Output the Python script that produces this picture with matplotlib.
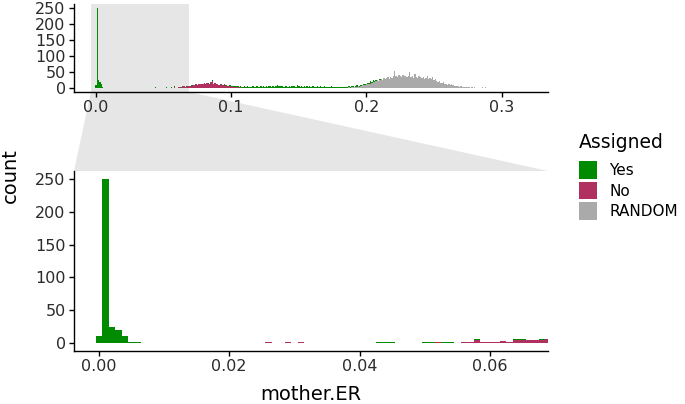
import numpy as np
import matplotlib
matplotlib.use("Agg")
from matplotlib import pyplot as plt
from matplotlib.patches import Patch, Polygon

plt.rcParams['font.family'] = ['DejaVu Sans']

# histogram bins: bin k is centred on k * bin_width
bin_width = 0.001

yes_counts = [
    10, 250, 24, 20, 11, 2, 1, 0, 0, 0, 0, 0, 0, 0, 0, 0, 0, 0, 0, 0,
    0, 0, 0, 0, 0, 0, 0, 0, 0, 0, 0, 0, 0, 0, 0, 0, 0, 0, 0, 0,
    0, 0, 0, 1, 2, 1, 0, 0, 0, 0, 1, 1, 1, 1, 1, 0, 1, 0, 2, 0,
    0, 0, 0, 1, 1, 1, 0, 1, 1, 0, 0, 1, 0, 0, 1, 0, 0, 1, 0, 0,
    1, 0, 0, 1, 0, 0, 1, 0, 0, 1, 0, 1, 0, 1, 0, 1, 2, 1, 1, 2,
    1, 2, 1, 3, 2, 3, 2, 4, 3, 2, 4, 3, 5, 2, 4, 3, 6, 4, 3, 5,
    4, 2, 4, 3, 5, 4, 7, 3, 4, 5, 3, 6, 4, 5, 8, 4, 6, 5, 7, 4,
    5, 6, 3, 5, 4, 7, 5, 6, 4, 8, 5, 4, 6, 3, 5, 4, 6, 3, 5, 4,
    6, 5, 3, 4, 5, 3, 6, 4, 3, 5, 4, 3, 4, 2, 5, 3, 4, 2, 3, 4,
    2, 3, 4, 2, 3, 2, 4, 3, 2, 3, 4, 2, 3, 5, 2, 3, 4, 2, 3, 4,
    2, 6, 3, 7, 4, 6, 2, 3, 1, 2, 1, 1, 0, 1, 0, 1, 0, 0, 0, 0,
    0, 0, 0, 0, 0, 0, 0, 0, 0, 0, 0, 0, 0, 0, 0, 0, 0, 0, 0, 0,
    0, 0, 0, 0, 0, 0, 0, 0, 0, 0, 0, 0, 0, 0, 0, 0, 0, 0, 0, 0,
    0, 0, 0, 0, 0, 0, 0, 0, 0, 0, 0, 0, 0, 0, 0, 0, 0, 0, 0, 0,
    0, 0, 0, 0, 0, 0, 0, 0, 0, 0, 0, 0, 0, 0, 0, 0, 0, 0, 0, 0,
    0, 0, 0, 0, 0, 0, 0, 0, 0, 0, 0, 0, 0, 0, 0, 0, 0, 0, 0, 0,
]

no_counts = [
    0, 0, 0, 0, 0, 0, 0, 0, 0, 0, 0, 0, 0, 0, 0, 0, 0, 0, 0, 0,
    0, 0, 0, 0, 0, 0, 1, 0, 0, 1, 0, 1, 0, 0, 0, 0, 0, 0, 0, 0,
    0, 0, 0, 0, 0, 0, 0, 0, 0, 0, 0, 0, 1, 0, 0, 0, 1, 1, 4, 1,
    1, 2, 3, 1, 5, 5, 4, 4, 5, 6, 5, 7, 9, 8, 12, 10, 13, 11, 14, 12,
    15, 13, 16, 14, 12, 18, 23, 13, 15, 11, 14, 9, 12, 10, 8, 12, 7, 6, 5, 6,
    4, 3, 4, 2, 3, 2, 1, 2, 1, 1, 1, 0, 1, 0, 0, 1, 0, 0, 1, 0,
    0, 0, 1, 0, 0, 0, 0, 0, 1, 0, 0, 0, 0, 0, 0, 1, 0, 0, 0, 0,
    0, 0, 0, 0, 0, 0, 0, 0, 0, 0, 0, 0, 0, 0, 0, 0, 0, 0, 0, 0,
    0, 0, 0, 0, 0, 0, 0, 0, 0, 0, 0, 0, 0, 0, 0, 0, 0, 0, 0, 0,
    0, 0, 0, 0, 0, 0, 0, 0, 0, 0, 0, 0, 0, 0, 0, 0, 0, 0, 0, 0,
    0, 0, 0, 2, 0, 1, 0, 0, 0, 0, 0, 0, 0, 0, 0, 0, 0, 0, 0, 0,
    0, 0, 0, 0, 0, 0, 0, 0, 0, 0, 0, 0, 0, 0, 0, 0, 0, 0, 0, 0,
    0, 0, 0, 0, 0, 0, 0, 0, 0, 0, 0, 0, 0, 0, 0, 0, 0, 0, 0, 0,
    0, 0, 0, 0, 0, 0, 0, 0, 0, 0, 0, 0, 0, 0, 0, 0, 0, 0, 0, 0,
    0, 0, 0, 0, 0, 0, 0, 0, 0, 0, 0, 0, 0, 0, 0, 0, 0, 0, 0, 0,
    0, 0, 0, 0, 0, 0, 0, 0, 0, 0, 0, 0, 0, 0, 0, 0, 0, 0, 0, 0,
]

random_counts = [
    0, 0, 0, 0, 0, 0, 0, 0, 0, 0, 0, 0, 0, 0, 0, 0, 0, 0, 0, 0,
    0, 0, 0, 0, 0, 0, 0, 0, 0, 0, 0, 0, 0, 0, 0, 0, 0, 0, 0, 0,
    0, 0, 0, 0, 0, 0, 0, 0, 0, 0, 0, 0, 0, 0, 0, 0, 0, 0, 0, 0,
    0, 0, 0, 0, 0, 0, 0, 0, 0, 0, 0, 0, 0, 0, 0, 0, 0, 0, 0, 0,
    0, 0, 0, 0, 0, 0, 0, 0, 0, 0, 0, 0, 0, 0, 0, 0, 0, 0, 0, 0,
    0, 0, 0, 0, 0, 0, 0, 0, 0, 0, 0, 0, 0, 0, 0, 0, 0, 0, 0, 0,
    0, 0, 0, 0, 0, 0, 0, 0, 0, 0, 0, 0, 0, 0, 0, 0, 0, 0, 0, 0,
    0, 0, 0, 0, 0, 0, 0, 0, 0, 0, 0, 0, 0, 0, 0, 0, 0, 0, 0, 0,
    0, 0, 0, 0, 0, 0, 0, 0, 0, 0, 0, 0, 0, 0, 0, 0, 0, 0, 0, 0,
    0, 0, 0, 0, 0, 1, 0, 2, 1, 2, 3, 2, 4, 3, 5, 4, 6, 8, 10, 9,
    12, 11, 14, 13, 15, 18, 20, 22, 24, 21, 26, 28, 25, 31, 27, 30, 33, 29, 35, 32,
    38, 54, 36, 34, 40, 37, 33, 41, 36, 39, 35, 38, 50, 34, 37, 31, 43, 35, 32, 36,
    33, 30, 35, 28, 32, 38, 29, 31, 27, 33, 25, 28, 22, 19, 21, 17, 15, 18, 12, 14,
    10, 11, 9, 12, 8, 7, 6, 5, 6, 4, 5, 3, 4, 3, 2, 3, 2, 1, 2, 1,
    2, 1, 1, 0, 1, 0, 2, 1, 2, 1, 0, 0, 0, 0, 0, 0, 0, 0, 0, 0,
    0, 0, 0, 0, 0, 0, 0, 0, 0, 0, 0, 0, 0, 0, 0, 0, 0, 1, 0, 0,
]

groups = ["Yes", "No", "RANDOM"]
colors = {"Yes": "#008B00", "No": "#B03060", "RANDOM": "#AAAAAA"}

full_xlim = (-0.0163, 0.3343)
zoom_xlim = (-0.0038, 0.0689)
ylim = (-12.5, 262.5)

W, H = 685, 404
fig = plt.figure(figsize=(W / 100, H / 100), dpi=100)


def px_box(left, top, right, bottom):
    return [left / W, 1 - bottom / H, (right - left) / W, (bottom - top) / H]


ax_top = fig.add_axes(px_box(74, 4, 548, 92))
ax_zoom = fig.add_axes(px_box(74, 171, 548, 351))

centers = np.arange(len(yes_counts)) * bin_width
stack = {
    "RANDOM": np.array(random_counts),
    "No": np.array(no_counts),
    "Yes": np.array(yes_counts),
}

for ax in (ax_top, ax_zoom):
    bottom = np.zeros(len(centers))
    # ggplot stacks the first level on top, so draw RANDOM first
    for g in ["RANDOM", "No", "Yes"]:
        ax.bar(centers, stack[g], width=bin_width, bottom=bottom,
               color=colors[g], linewidth=0, zorder=2)
        bottom = bottom + stack[g]
    ax.set_ylim(*ylim)
    ax.set_yticks([0, 50, 100, 150, 200, 250])
    for s in ["top", "right"]:
        ax.spines[s].set_visible(False)
    for s in ["left", "bottom"]:
        ax.spines[s].set_linewidth(1.0)
    ax.tick_params(length=3.5, width=1.0, pad=2.5, labelsize=11.5,
                   labelcolor="#2b2b2b")

ax_top.axvspan(*zoom_xlim, color="#E6E6E6", linewidth=0, zorder=0.5)
ax_top.set_xlim(*full_xlim)
ax_top.set_xticks([0.0, 0.1, 0.2, 0.3])
ax_top.set_xticklabels(["0.0", "0.1", "0.2", "0.3"])

ax_zoom.set_xlim(*zoom_xlim)
ax_zoom.set_xticks([0.0, 0.02, 0.04, 0.06])
ax_zoom.set_xticklabels(["0.00", "0.02", "0.04", "0.06"])

# zoom indicator between the panels
def to_px(x):
    return 74 + (x - full_xlim[0]) / (full_xlim[1] - full_xlim[0]) * 474

trap = [(to_px(zoom_xlim[0]) / W, 1 - 92 / H), (to_px(zoom_xlim[1]) / W, 1 - 92 / H),
        (548 / W, 1 - 171 / H), (74 / W, 1 - 171 / H)]
fig.add_artist(Polygon(trap, closed=True, transform=fig.transFigure,
                       facecolor="#E6E6E6", edgecolor="none", zorder=-1))

fig.text(10 / W, 1 - 176 / H, "count", rotation=90, ha="center", va="center",
         fontsize=14)
fig.text(311 / W, 1 - 394 / H, "mother.ER", ha="center", va="center",
         fontsize=14)

fig.text(579 / W, 1 - 133 / H, "Assigned", ha="left", va="top", fontsize=13.5)
handles = [Patch(facecolor=colors[g], edgecolor="none", label=g) for g in groups]
fig.legend(handles=handles, loc="upper left",
           bbox_to_anchor=(579 / W, 1 - 161 / H), frameon=False,
           fontsize=11, handlelength=1.18, handleheight=1.4,
           labelspacing=0.2, handletextpad=0.8,
           borderpad=0, borderaxespad=0)

fig.savefig("out.png", dpi=100)
